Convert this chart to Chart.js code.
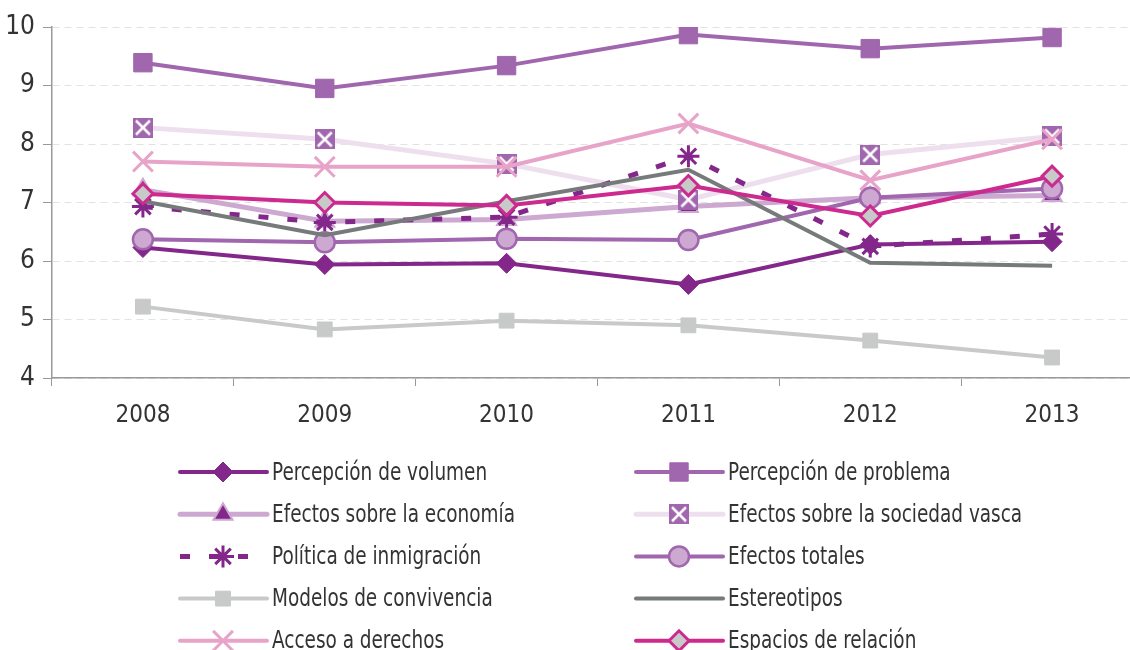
<!DOCTYPE html>
<html>
<head>
<meta charset="utf-8">
<script src="https://cdn.jsdelivr.net/npm/chart.js@4/dist/chart.umd.min.js"></script>
<style>
  html, body { margin: 0; padding: 0; background: #fff; overflow: hidden; }
  #wrap { position: relative; width: 1160px; height: 650px; }
</style>
</head>
<body>
<div id="wrap"><canvas id="chart" width="1160" height="650"></canvas></div>
<script>
const years = ['2008', '2009', '2010', '2011', '2012', '2013'];
const yMin = 4;
const yMax = 10;

const seriesNames = [
  'Percepción de volumen', 'Percepción de problema',
  'Efectos sobre la economía', 'Efectos sobre la sociedad vasca',
  'Política de inmigración', 'Efectos totales',
  'Modelos de convivencia', 'Estereotipos',
  'Acceso a derechos', 'Espacios de relación',
];

const volumen = [6.23, 5.94, 5.96, 5.60, 6.28, 6.33];
const problema = [9.39, 8.95, 9.34, 9.87, 9.63, 9.82];
const economia = [7.22, 6.68, 6.71, 6.93, 7.08, 7.12];
const sociedad = [8.28, 8.08, 7.66, 7.05, 7.82, 8.13];
const politica = [6.93, 6.66, 6.75, 7.79, 6.25, 6.46];
const totales = [6.37, 6.32, 6.38, 6.36, 7.08, 7.24];
const modelos = [5.22, 4.83, 4.98, 4.90, 4.64, 4.35];
const estereotipos = [7.02, 6.44, 7.02, 7.56, 5.97, 5.92];
const acceso = [7.70, 7.61, 7.61, 8.35, 7.38, 8.08];
const espacios = [7.15, 7.00, 6.95, 7.29, 6.77, 7.45];

const FONT = "'Liberation Sans Narrow', 'DejaVu Sans Condensed', 'Roboto Condensed', sans-serif";

// purple square with a white cross, used for "sociedad vasca"
const boxX = (() => {
  const c = document.createElement('canvas');
  c.width = 20; c.height = 20;
  const g = c.getContext('2d');
  g.fillStyle = '#a066ae';
  g.fillRect(0, 0, 20, 20);
  g.strokeStyle = '#ffffff';
  g.lineWidth = 2.5;
  g.beginPath();
  g.moveTo(3, 3); g.lineTo(17, 17);
  g.moveTo(17, 3); g.lineTo(3, 17);
  g.stroke();
  return c;
})();

const styles = [
  { line: '#84278a', width: 4, style: 'rectRot', r: 10, fill: '#84278a', border: '#84278a', bw: 1 },
  { line: '#a066ae', width: 4, style: 'rect', r: 13, fill: '#a066ae', border: '#a066ae', bw: 1 },
  { line: '#cda8d1', width: 5, style: 'triangle', r: 11, fill: '#84278a', border: '#cda8d1', bw: 2 },
  { line: '#eedfee', width: 5, style: boxX, r: 10, fill: '#a066ae', border: '#a066ae', bw: 0 },
  { line: '#84278a', width: 5, dash: [10, 19], style: 'star', r: 11, fill: '#84278a', border: '#84278a', bw: 3 },
  { line: '#a066ae', width: 4, style: 'circle', r: 10, fill: '#cda8d1', border: '#a066ae', bw: 2.5 },
  { line: '#c8c9c9', width: 4, style: 'rect', r: 10.5, fill: '#c8c9c9', border: '#c8c9c9', bw: 1 },
  { line: '#767a7b', width: 4, style: 'circle', r: 0, fill: '#767a7b', border: '#767a7b', bw: 0 },
  { line: '#e8a3c9', width: 4, style: 'crossRot', r: 14, fill: '#e8a3c9', border: '#e8a3c9', bw: 3 },
  { line: '#cc2a8e', width: 4, style: 'rectRot', r: 10, fill: '#c8c9c9', border: '#cc2a8e', bw: 3 },
];

const values = [volumen, problema, economia, sociedad, politica, totales, modelos, estereotipos, acceso, espacios];

const datasets = values.map((data, i) => {
  const s = styles[i];
  return {
    label: seriesNames[i],
    data,
    order: 10 - i,
    borderColor: s.line,
    borderWidth: s.width,
    borderDash: s.dash || [],
    tension: 0,
    pointStyle: s.style,
    pointRadius: s.r,
    pointHoverRadius: s.r,
    pointBackgroundColor: s.fill,
    pointBorderColor: s.border,
    pointBorderWidth: s.bw,
  };
});

// two-column legend under the plot
const sideLegend = {
  id: 'sideLegend',
  afterDraw(chart) {
    const ctx = chart.ctx;
    chart.data.datasets.forEach((ds, i) => {
      const col = i % 2;
      const row = Math.floor(i / 2);
      const x0 = col ? 636 : 180;
      const y = 472 + row * 42.2;
      ctx.save();
      ctx.strokeStyle = ds.borderColor;
      ctx.lineWidth = ds.borderWidth;
      ctx.setLineDash(ds.borderDash);
      ctx.lineCap = ds.borderDash.length ? 'butt' : 'round';
      ctx.beginPath();
      ctx.moveTo(x0, y);
      ctx.lineTo(x0 + 87, y);
      ctx.stroke();
      ctx.setLineDash([]);
      ctx.lineCap = 'butt';
      if (ds.pointRadius > 0) {
        ctx.fillStyle = ds.pointBackgroundColor;
        ctx.strokeStyle = ds.pointBorderColor;
        ctx.lineWidth = ds.pointBorderWidth;
        Chart.helpers.drawPoint(ctx, {
          pointStyle: ds.pointStyle,
          radius: ds.pointRadius,
          rotation: 0,
          borderWidth: ds.pointBorderWidth,
        }, x0 + 43, y);
      }
      ctx.fillStyle = '#333333';
      ctx.font = '25px ' + FONT;
      ctx.textBaseline = 'middle';
      ctx.translate(x0 + 92, y + 1);
      ctx.scale(0.82, 1);
      ctx.fillText(ds.label, 0, 0);
      ctx.restore();
    });
  },
};

new Chart(document.getElementById('chart'), {
  type: 'line',
  data: { labels: years, datasets },
  options: {
    responsive: false,
    animation: false,
    layout: { padding: { top: 27, right: 0, bottom: 0, left: 0 } },
    plugins: {
      legend: { display: false },
      tooltip: { enabled: false },
    },
    scales: {
      x: {
        offset: true,
        afterFit: (scale) => { scale.height = 272; },
        grid: {
          offset: true,
          drawOnChartArea: false,
          tickLength: 8,
          tickColor: '#999999',
        },
        border: { color: '#999999', width: 1.5 },
        ticks: {
          color: '#333333',
          padding: 15,
          font: { family: FONT, size: 24 },
        },
      },
      y: {
        min: yMin,
        max: yMax,
        afterFit: (scale) => { scale.width = 52; },
        grid: {
          color: '#e2e2e2',
          lineWidth: 1,
          tickLength: 9,
          tickColor: '#999999',
          tickBorderDash: [],
        },
        border: { color: '#999999', width: 1.5, dash: [7, 5] },
        ticks: {
          stepSize: 1,
          color: '#333333',
          padding: 8,
          font: { family: FONT, size: 26 },
        },
      },
    },
  },
  plugins: [sideLegend],
});
</script>
</body>
</html>
